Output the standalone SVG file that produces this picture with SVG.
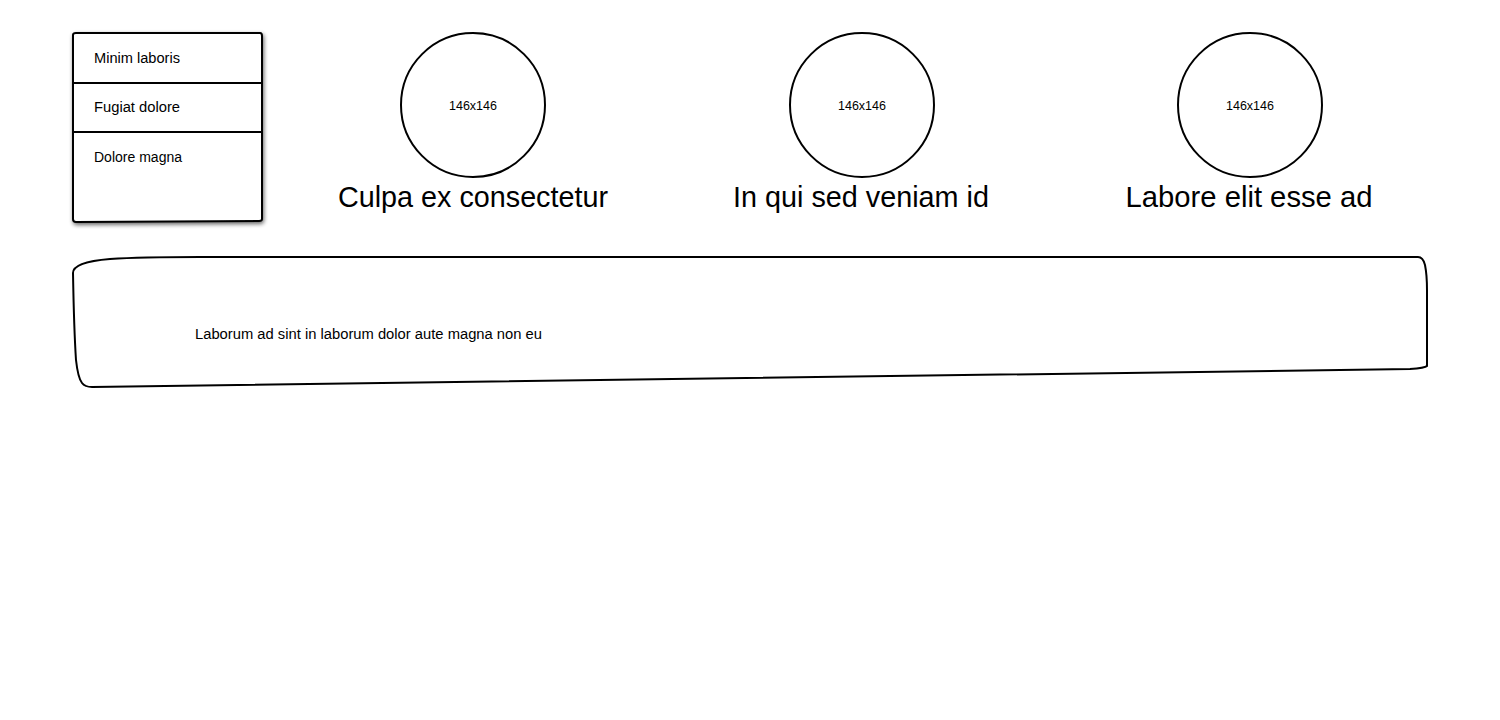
<svg xmlns="http://www.w3.org/2000/svg" width="1500" height="720" viewBox="0 0 1500 720">
<defs>
<style>
.ln{fill:none;stroke:#000;stroke-width:2;stroke-linecap:round;stroke-linejoin:round}
.bx{fill:#fff;stroke:#000;stroke-width:2;stroke-linejoin:round}
.t{font-family:"Liberation Sans",Arial,sans-serif;fill:#000}
.s{font-size:14px}
.c{font-size:13px;text-anchor:middle}
.h{font-size:29px;text-anchor:middle}
</style>
<filter id="sh" x="-10%" y="-10%" width="125%" height="125%">
<feGaussianBlur in="SourceAlpha" stdDeviation="2"/>
<feOffset dx="1" dy="2"/>
<feComponentTransfer><feFuncA type="linear" slope="0.6"/></feComponentTransfer>
<feMerge><feMergeNode/><feMergeNode in="SourceGraphic"/></feMerge>
</filter>
</defs>
<rect width="1500" height="720" fill="#fff"/>
<g id="menu">
<path class="bx" filter="url(#sh)" d="M73,35 Q73,33 76,33 L260,33 Q262,33 262,36 L262,219 Q262,221 259,221 L76,222 Q73,222 73,219 Z"/>
<line class="ln" x1="73" y1="83" x2="262" y2="83"/>
<line class="ln" x1="73" y1="132" x2="262" y2="132"/>
<text class="t s" x="94" y="63" textLength="86" lengthAdjust="spacingAndGlyphs">Minim laboris</text>
<text class="t s" x="94" y="112" textLength="86" lengthAdjust="spacingAndGlyphs">Fugiat dolore</text>
<text class="t s" x="94" y="162" textLength="88" lengthAdjust="spacingAndGlyphs">Dolore magna</text>
</g>
<g id="item1">
<circle class="bx" cx="473" cy="105" r="72"/>
<text class="t c" x="473" y="110" textLength="48" lengthAdjust="spacingAndGlyphs">146x146</text>
<text class="t h" x="473" y="207" textLength="270" lengthAdjust="spacingAndGlyphs">Culpa ex consectetur</text>
</g>
<g id="item2">
<circle class="bx" cx="862" cy="105" r="72"/>
<text class="t c" x="862" y="110" textLength="48" lengthAdjust="spacingAndGlyphs">146x146</text>
<text class="t h" x="861" y="207" textLength="256" lengthAdjust="spacingAndGlyphs">In qui sed veniam id</text>
</g>
<g id="item3">
<circle class="bx" cx="1250" cy="105" r="72"/>
<text class="t c" x="1250" y="110" textLength="48" lengthAdjust="spacingAndGlyphs">146x146</text>
<text class="t h" x="1249" y="207" textLength="247" lengthAdjust="spacingAndGlyphs">Labore elit esse ad</text>
</g>
<g id="banner">
<path class="bx" d="M73,273 Q73,262 110,259 Q140,257 200,257 L1418,257 Q1423,257 1425,265 Q1427,275 1427,290 L1427,366 Q1425,368 1410,369 L92,387 Q85,387 82,383 Q78,378 76,360 Q74,330 73,273 Z"/>
<text class="t s" x="195" y="339" textLength="347" lengthAdjust="spacingAndGlyphs">Laborum ad sint in laborum dolor aute magna non eu</text>
</g>
<g id="connectors"/>
</svg>
